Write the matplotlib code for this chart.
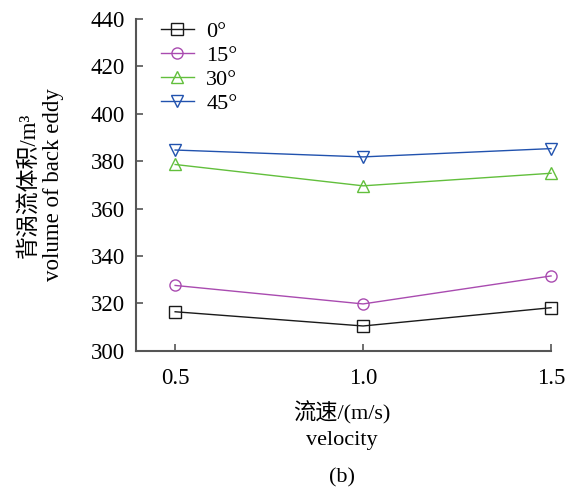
import numpy as np
import matplotlib.pyplot as plt

# data
velocity = [0.5, 1.0, 1.5]
angle_labels = ["0°", "15°", "30°", "45°"]
vol_0 = [316.5, 310.5, 318.2]
vol_15 = [327.6, 319.8, 331.6]
vol_30 = [378.6, 369.6, 374.9]
vol_45 = [384.7, 381.8, 385.3]

series = [vol_0, vol_15, vol_30, vol_45]
colors = ["#1a1a1a", "#a94bb0", "#62bf3c", "#2152ae"]
markers = ["s", "o", "^", "v"]

plt.rcParams["font.family"] = ["Liberation Serif", "Noto Sans CJK SC"]

fig = plt.figure(figsize=(5.74, 4.97), dpi=100)
ax = fig.add_axes([0.237, 0.294, 0.723, 0.668])

for vals, lab, c, m in zip(series, angle_labels, colors, markers):
    ax.plot(velocity, vals, color=c, marker=m, markersize=8,
            markerfacecolor="none", markeredgecolor=c, markeredgewidth=1.0,
            linewidth=1.0, label=lab, clip_on=False)

ax.set_xlim(0.396, 1.5)
ax.set_ylim(300, 440)
ax.set_xticks(velocity)
ax.set_xticklabels(["0.5", "1.0", "1.5"])
ax.set_yticks(np.arange(300, 441, 20))

for side in ["top", "right"]:
    ax.spines[side].set_visible(False)
for side in ["left", "bottom"]:
    ax.spines[side].set_color("#555555")
    ax.spines[side].set_linewidth(1.5)

ax.tick_params(direction="in", length=5, width=1.2, color="#555555",
               labelsize=16.5, pad=8)
ax.tick_params(axis="x", pad=12)

leg = ax.legend(loc="upper left", frameon=False, fontsize=16,
                handlelength=1.5, handletextpad=0.55, labelspacing=0.16,
                borderaxespad=0.0, bbox_to_anchor=(0.038, 1.02))

fig.text(0.049, 0.628, "背涡流体积/m³", rotation=90, ha="center", va="center",
         fontsize=16.5)
fig.text(0.093, 0.628, "volume of back eddy", rotation=90, ha="center", va="center",
         fontsize=16.5)
fig.text(0.595, 0.170, "流速/(m/s)", ha="center", va="center", fontsize=16)
fig.text(0.595, 0.113, "velocity", ha="center", va="center", fontsize=16)
fig.text(0.595, 0.038, "(b)", ha="center", va="center", fontsize=16)

fig.savefig("out.png", dpi=100)
